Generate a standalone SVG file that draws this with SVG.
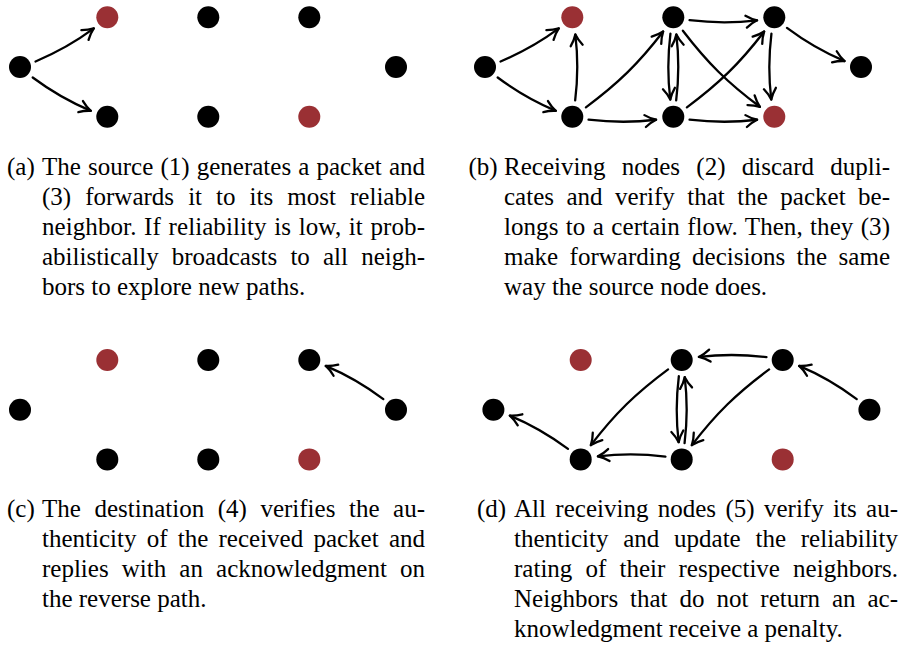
<svg xmlns="http://www.w3.org/2000/svg" width="905" height="651" viewBox="0 0 905 651">
  <defs>
    <style>
      .node { fill: #000000; }
      .node.hit { fill: #9a3034; }
      .edge { fill: none; stroke: #000000; stroke-width: 2.3; stroke-linecap: round; marker-end: url(#tip); }
      text { font-family: "Liberation Serif", "Times New Roman", serif; font-size: 25px; fill: #000000; }
    </style>
    <!-- open "to"-style arrow tip -->
    <marker id="tip" markerUnits="userSpaceOnUse" markerWidth="24" markerHeight="24" refX="0" refY="0" orient="auto" overflow="visible">
      <path d="M-11,-6 C-7,-3 -2.6,-0.9 0,0 C-2.6,0.9 -7,3 -11,6" fill="none" stroke="#000000" stroke-width="2.3" stroke-linecap="round" stroke-linejoin="round"/>
    </marker>
  </defs>

  <!-- (a) source sends to two neighbours -->
  <g id="panel-a">
    <g id="a-nodes">
      <g id="a-s"><circle class="node" cx="20" cy="67" r="11"/></g>
      <g id="a-t1"><circle class="node hit" cx="107.3" cy="17.3" r="11"/></g>
      <g id="a-t2"><circle class="node" cx="208.3" cy="17.3" r="11"/></g>
      <g id="a-t3"><circle class="node" cx="309.3" cy="17.3" r="11"/></g>
      <g id="a-e"><circle class="node" cx="396" cy="67" r="11"/></g>
      <g id="a-b1"><circle class="node" cx="107.3" cy="116.7" r="11"/></g>
      <g id="a-b2"><circle class="node" cx="208.3" cy="116.7" r="11"/></g>
      <g id="a-b3"><circle class="node hit" cx="309.3" cy="116.7" r="11"/></g>
    </g>
    <g id="a-edges">
      <path class="edge" d="M35.54,61.45 C58.40,51.91 73.94,43.25 93.81,28.45"/>
      <path class="edge" d="M32.70,77.53 C52.57,92.33 67.94,101.29 90.81,110.83"/>
    </g>
  </g>

  <!-- (b) forwarding through the network -->
  <g id="panel-b" transform="translate(465,0)">
    <g id="b-nodes">
      <g id="b-s"><circle class="node" cx="20" cy="67" r="11"/></g>
      <g id="b-t1"><circle class="node hit" cx="107.3" cy="17.3" r="11"/></g>
      <g id="b-t2"><circle class="node" cx="208.3" cy="17.3" r="11"/></g>
      <g id="b-t3"><circle class="node" cx="309.3" cy="17.3" r="11"/></g>
      <g id="b-e"><circle class="node" cx="396" cy="67" r="11"/></g>
      <g id="b-b1"><circle class="node" cx="107.3" cy="116.7" r="11"/></g>
      <g id="b-b2"><circle class="node" cx="208.3" cy="116.7" r="11"/></g>
      <g id="b-b3"><circle class="node hit" cx="309.3" cy="116.7" r="11"/></g>
    </g>
    <g id="b-edges">
      <path class="edge" d="M35.54,61.45 C58.40,51.91 73.94,43.25 93.81,28.45"/>
      <path class="edge" d="M32.70,77.53 C52.57,92.33 67.94,101.29 90.81,110.83"/>
      <path class="edge" d="M110.17,100.45 C113.14,76.24 113.31,58.74 110.34,34.53"/>
      <path class="edge" d="M120.89,107.34 C153.03,83.52 173.82,63.32 198.15,31.55"/>
      <path class="edge" d="M123.55,119.57 C148.34,122.61 166.28,122.78 191.07,119.74"/>
      <path class="edge" d="M224.55,20.17 C249.34,23.21 267.28,23.38 292.07,20.34"/>
      <path class="edge" d="M205.44,33.55 C202.46,57.76 202.29,75.26 205.26,99.47"/>
      <path class="edge" d="M211.17,100.45 C214.14,76.24 214.31,58.74 211.34,34.53"/>
      <path class="edge" d="M217.87,30.74 C242.21,62.50 262.74,82.96 294.89,106.79"/>
      <path class="edge" d="M221.89,107.34 C254.03,83.52 274.82,63.32 299.15,31.55"/>
      <path class="edge" d="M224.55,119.57 C249.34,122.61 267.28,122.78 292.07,119.74"/>
      <path class="edge" d="M306.44,33.55 C303.46,57.76 303.29,75.26 306.26,99.47"/>
      <path class="edge" d="M321.97,27.87 C341.65,42.61 356.88,51.53 379.54,61.07"/>
    </g>
  </g>

  <!-- (c) destination answers -->
  <g id="panel-c" transform="translate(0,342.7)">
    <g id="c-nodes">
      <g id="c-s"><circle class="node" cx="20" cy="67" r="11"/></g>
      <g id="c-t1"><circle class="node hit" cx="107.3" cy="17.3" r="11"/></g>
      <g id="c-t2"><circle class="node" cx="208.3" cy="17.3" r="11"/></g>
      <g id="c-t3"><circle class="node" cx="309.3" cy="17.3" r="11"/></g>
      <g id="c-e"><circle class="node" cx="396" cy="67" r="11"/></g>
      <g id="c-b1"><circle class="node" cx="107.3" cy="116.7" r="11"/></g>
      <g id="c-b2"><circle class="node" cx="208.3" cy="116.7" r="11"/></g>
      <g id="c-b3"><circle class="node hit" cx="309.3" cy="116.7" r="11"/></g>
    </g>
    <g id="c-edges">
      <path class="edge" d="M383.33,56.43 C363.65,41.69 348.42,32.77 325.76,23.23"/>
    </g>
  </g>

  <!-- (d) acknowledgment travels back -->
  <g id="panel-d" transform="translate(473.4,342.7)">
    <g id="d-nodes">
      <g id="d-s"><circle class="node" cx="20" cy="67" r="11"/></g>
      <g id="d-t1"><circle class="node hit" cx="107.3" cy="17.3" r="11"/></g>
      <g id="d-t2"><circle class="node" cx="208.3" cy="17.3" r="11"/></g>
      <g id="d-t3"><circle class="node" cx="309.3" cy="17.3" r="11"/></g>
      <g id="d-e"><circle class="node" cx="396" cy="67" r="11"/></g>
      <g id="d-b1"><circle class="node" cx="107.3" cy="116.7" r="11"/></g>
      <g id="d-b2"><circle class="node" cx="208.3" cy="116.7" r="11"/></g>
      <g id="d-b3"><circle class="node hit" cx="309.3" cy="116.7" r="11"/></g>
    </g>
    <g id="d-edges">
      <path class="edge" d="M383.33,56.43 C363.65,41.69 348.42,32.77 325.76,23.23"/>
      <path class="edge" d="M293.05,14.44 C268.26,11.39 250.32,11.22 225.53,14.26"/>
      <path class="edge" d="M295.71,26.66 C263.57,50.48 242.78,70.68 218.45,102.45"/>
      <path class="edge" d="M205.44,33.55 C202.46,57.76 202.29,75.26 205.26,99.47"/>
      <path class="edge" d="M211.17,100.45 C214.14,76.24 214.31,58.74 211.34,34.53"/>
      <path class="edge" d="M194.71,26.66 C162.57,50.48 141.78,70.68 117.45,102.45"/>
      <path class="edge" d="M192.05,113.84 C167.26,110.79 149.32,110.62 124.53,113.66"/>
      <path class="edge" d="M94.60,106.17 C74.73,91.37 59.36,82.41 36.49,72.87"/>
    </g>
  </g>

  <!-- captions: justified lines, extra room goes into the word gaps -->
  <g id="caption-a">
    <text x="7" y="175">(a)</text>
    <text x="42" y="175" word-spacing="0.9" textLength="383" lengthAdjust="spacing">The source (1) generates a packet and</text>
    <text x="42" y="205" word-spacing="7.8" textLength="383" lengthAdjust="spacing">(3) forwards it to its most reliable</text>
    <text x="42" y="235" word-spacing="1.3" textLength="383" lengthAdjust="spacing">neighbor. If reliability is low, it prob-</text>
    <text x="42" y="265" word-spacing="6.9" textLength="383" lengthAdjust="spacing">abilistically broadcasts to all neigh-</text>
    <text x="42" y="295">bors to explore new paths.</text>
  </g>
  <g id="caption-b">
    <text x="468.5" y="175">(b)</text>
    <text x="504" y="175" word-spacing="10" textLength="386" lengthAdjust="spacing">Receiving nodes (2) discard dupli-</text>
    <text x="504" y="205" word-spacing="6.2" textLength="386" lengthAdjust="spacing">cates and verify that the packet be-</text>
    <text x="504" y="235" word-spacing="1.1" textLength="386" lengthAdjust="spacing">longs to a certain flow. Then, they (3)</text>
    <text x="504" y="265" word-spacing="5.2" textLength="386" lengthAdjust="spacing">make forwarding decisions the same</text>
    <text x="504" y="295">way the source node does.</text>
  </g>
  <g id="caption-c">
    <text x="7" y="517">(c)</text>
    <text x="42" y="517" word-spacing="7.3" textLength="383" lengthAdjust="spacing">The destination (4) verifies the au-</text>
    <text x="42" y="547" word-spacing="4" textLength="383" lengthAdjust="spacing">thenticity of the received packet and</text>
    <text x="42" y="577" word-spacing="6.9" textLength="383" lengthAdjust="spacing">replies with an acknowledgment on</text>
    <text x="42" y="607">the reverse path.</text>
  </g>
  <g id="caption-d">
    <text x="477" y="517">(d)</text>
    <text x="514" y="517" word-spacing="3.1" textLength="384" lengthAdjust="spacing">All receiving nodes (5) verify its au-</text>
    <text x="514" y="547" word-spacing="8.5" textLength="384" lengthAdjust="spacing">thenticity and update the reliability</text>
    <text x="514" y="577" word-spacing="6.9" textLength="384" lengthAdjust="spacing">rating of their respective neighbors.</text>
    <text x="514" y="607" word-spacing="5.7" textLength="384" lengthAdjust="spacing">Neighbors that do not return an ac-</text>
    <text x="514" y="637">knowledgment receive a penalty.</text>
  </g>
</svg>
